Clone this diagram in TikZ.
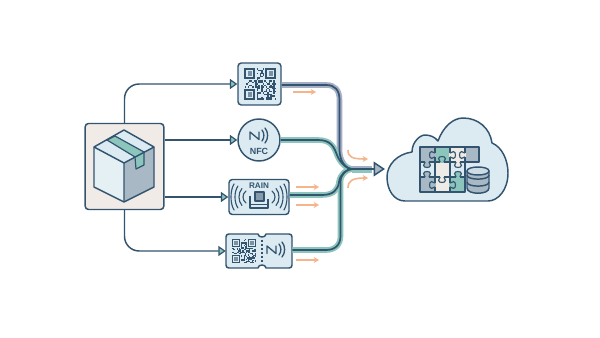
\documentclass[tikz,border=0pt]{standalone}
\usepackage{fontspec}
\setmainfont{Liberation Sans}
\usetikzlibrary{arrows.meta}
\definecolor{ink}{HTML}{33546F}
\definecolor{pale}{HTML}{DCEBF2}
\definecolor{paper}{HTML}{F0EBE6}
\definecolor{sea}{HTML}{8CC5BC}
\definecolor{slate}{HTML}{A9B8C5}
\definecolor{lilac}{HTML}{A4AFC6}
\definecolor{peach}{HTML}{F5B48A}
\definecolor{cream}{HTML}{EEEBE6}
\tikzset{
  x=.75pt, y=-.75pt,
  outline/.style={draw=ink, line width=1.1pt, line join=round},
  tile/.style={outline, fill=pale, rounded corners=2.5pt, inner sep=0pt},
  feed/.style={draw=ink, line width=1.1pt, rounded corners=11pt,
    -{Triangle[length=5.5pt,width=7.5pt,fill=sea,line width=.9pt]}},
  bandpale/.style={line width=4.2pt, line cap=butt},
  banddark/.style={draw=ink, line width=1.3pt},
  flow/.style={draw=peach, line width=1.2pt, -{Stealth[length=4pt,width=4.5pt]}},
  caption/.style={inner sep=0pt, text=ink, font=\fontsize{6.1pt}{7pt}\selectfont\bfseries},
  wave/.style={draw=ink, line width=.85pt, line cap=round},
}
% One QR symbol: x, y of the upper left corner, module size, seed
\newcommand{\qrsymbol}[4]{%
  \begin{scope}[shift={(#1,#2)}, x=#3*.75pt, y=-#3*.75pt]
    \pgfmathsetseed{#4}
    \foreach \r in {0,...,20}{\foreach \c in {0,...,20}{
      \pgfmathrandominteger{\bit}{0}{99}
      \pgfmathtruncatemacro{\infinder}{
        (\r<8 && \c<8) || (\r<8 && \c>12) || (\r>12 && \c<8) ? 1 : 0}
      \ifnum\infinder=0 \ifnum\bit<52
        \fill[ink] (\c,\r) rectangle ++(1,1);
      \fi\fi
    }}
    \foreach \fx/\fy in {0/0,14/0,0/14}{
      \draw[ink, line width=1.05*#3*.75pt] (\fx+.5,\fy+.5) rectangle ++(6,6);
      \fill[slate!60!ink] (\fx+2,\fy+2) rectangle ++(3,3);
    }
  \end{scope}}
% NFC mark: the letter N with two radiating arcs
\newcommand{\nfcmark}[2]{%
  \begin{scope}[shift={(#1,#2)}]
    \draw[wave, line width=1pt, line join=round] (-9,4.5) -- (-9,-3) -- (0,4.5) -- (0,-3);
    \draw[wave, line width=1pt] (3,-5) .. controls (5.5,-2) and (5.5,3) .. (3,6);
    \draw[wave, line width=1pt] (6,-7) .. controls (9.5,-3) and (9.5,4) .. (6,8);
  \end{scope}}
% Puzzle tab: base point, rotation, fill
\newcommand{\puzzletab}[4]{%
  \begin{scope}[shift={(#1,#2)}, rotate=#3]
    \fill[#4] (-1.9,-.1) rectangle (1.9,1);
    \filldraw[draw=ink, line width=.85pt, fill=#4]
      (-1.9,0) .. controls (-1.9,-1.4) and (-3.4,-1.6) .. (-3.4,-3.4)
      .. controls (-3.4,-6.2) and (3.4,-6.2) .. (3.4,-3.4)
      .. controls (3.4,-1.6) and (1.9,-1.4) .. (1.9,0);
  \end{scope}}
% Routes of the four streams into the hub
\newcommand{\qrroute}{([yshift=-.75pt]qrtag.east) -- (326,85)
  .. controls (335,85) and (339.5,90) .. (339.5,100) -- (339.5,150)
  .. controls (339.5,161) and (346,169) .. (hub)}
\newcommand{\nfcroute}{(nfctag.east) -- (318,140)
  .. controls (331,140) and (334,147) .. (337,155)
  .. controls (340,163) and (347,169) .. (hub)}
\newcommand{\rainroute}{([yshift=1.5pt]raintag.east) -- (322,195)
  .. controls (333,195) and (338,190) .. (339,182)
  .. controls (340,174) and (347,169) .. (hub)}
\newcommand{\ticketroute}{([yshift=.75pt]tickettag.east) -- (326,250)
  .. controls (335,250) and (340.5,245) .. (340.5,236) -- (340.5,182)
  .. controls (340.5,174) and (347,169) .. (hub)}
\begin{document}
\begin{tikzpicture}
\useasboundingbox (0,0) rectangle (600,338);
\fill[white] (0,0) rectangle (600,338);

% ---- carton on its panel
\node[tile, fill=paper, minimum width=59pt, minimum height=64.5pt] (panel) at (124.5,166.5) {};
\coordinate (lidtop) at (124,130);
\coordinate (lidleft) at (94,147);
\coordinate (lidright) at (154,147);
\coordinate (corner) at (124,163);
\coordinate (baseleft) at (94,187);
\coordinate (baseright) at (154,187);
\coordinate (basefront) at (124,202);
\fill[pale] (lidtop) -- (lidright) -- (corner) -- (lidleft) -- cycle;
\fill[pale!75!white] (lidleft) -- (corner) -- (basefront) -- (baseleft) -- cycle;
\fill[slate] (lidright) -- (corner) -- (basefront) -- (baseright) -- cycle;
\filldraw[outline, fill=sea, line width=.9pt]
  (107,140) -- (115,136) -- (144,152) -- (144,165) -- (136,169) -- (135,157) -- cycle;
\draw[outline] (lidleft) -- (lidtop) -- (lidright) -- (baseright) -- (basefront) -- (baseleft) -- cycle;
\draw[outline] (lidleft) -- (corner) -- (lidright) (corner) -- (basefront);

% ---- data carriers
\node[tile, minimum width=32.25pt, minimum height=31.5pt] (qrtag) at (259.5,84) {};
\qrsymbol{244.5}{68.5}{1.5}{17}

\node[outline, circle, fill=pale, minimum size=31.5pt, inner sep=0pt] (nfctag) at (259,140) {};
\nfcmark{259}{135}
\node[caption, font=\fontsize{6.7pt}{7pt}\selectfont\bfseries] (nfcname) at (259,151) {NFC};

\node[tile, minimum width=45pt, minimum height=26.25pt] (raintag) at (259,197) {};
\node[caption] (rainname) at (259,186) {RAIN};
\fill[slate!70!ink] (255,192) rectangle (264,201);
\draw[outline, line width=.9pt] (255,192) rectangle (264,201);
\draw[outline, line width=.9pt] (250,196) -- (250,208) -- (268,208) -- (268,199);
\draw[outline, line width=.7pt] (251,204.5) -- (267,204.5);
\foreach \d/\h in {0/6,4/8.5,8/11,12/13}{
  \draw[wave] (246-\d,197-\h) .. controls (242-\d,197-\h/2) and (242-\d,197+\h/2) .. (246-\d,197+\h);
  \draw[wave] (272+\d,197-\h) .. controls (276+\d,197-\h/2) and (276+\d,197+\h/2) .. (272+\d,197+\h);
}

\node[minimum width=49.5pt, minimum height=25.5pt, inner sep=0pt] (tickettag) at (259,251) {};
\filldraw[outline, fill=pale]
  (229,234) -- (258,234) .. controls (258,238) and (266,238) .. (266,234) -- (289,234)
  .. controls (291,234) and (292,235) .. (292,237) -- (292,265)
  .. controls (292,267) and (291,268) .. (289,268) -- (266,268)
  .. controls (266,264) and (258,264) .. (258,268) -- (229,268)
  .. controls (227,268) and (226,267) .. (226,265) -- (226,237)
  .. controls (226,235) and (227,234) .. (229,234) -- cycle;
\draw[ink, line width=.9pt, dash pattern=on 1.5pt off 1.5pt] (262,240) -- (262,263);
\qrsymbol{232}{239}{1.15}{41}
\nfcmark{276}{249}

% ---- links from the carton to each carrier
\draw[feed] (panel.north) |- (qrtag.west);
\draw[feed] (panel.east |- nfctag.west) -- (nfctag.west);
\draw[feed] (panel.east |- raintag.west) -- (raintag.west);
\draw[feed] (panel.south) |- (tickettag.west);

% ---- merging data streams: pale bands below, dark cores above
\coordinate (hub) at (352,169);
\coordinate (cloudgate) at (385,169);
\coordinate (hubupper) at (352,167);
\coordinate (hublower) at (352,171.5);
\coordinate (gateupper) at (372,167);
\coordinate (gatelower) at (372,171.5);
\draw[bandpale, draw=lilac] \qrroute;
\draw[bandpale, draw=sea] \nfcroute;
\draw[bandpale, draw=sea] \rainroute;
\draw[bandpale, draw=sea] \ticketroute;
\draw[draw=lilac, line width=2.2pt] (hubupper) -- (gateupper);
\draw[draw=sea, line width=2.2pt] (hublower) -- (gatelower);
\draw[banddark] \qrroute;
\draw[banddark] \nfcroute;
\draw[banddark] \rainroute;
\draw[banddark] \ticketroute;
\draw[banddark, -{Triangle[length=8.5pt,width=11pt,fill=slate,line width=1.1pt]}] (hub) -- (cloudgate);

% ---- direction cues
\coordinate (cueA) at (293,92);   \coordinate (cueAend) at (316,92);
\coordinate (cueB) at (296,187);  \coordinate (cueBend) at (319,187);
\coordinate (cueC) at (296,205);  \coordinate (cueCend) at (319,205);
\coordinate (cueD) at (296,260);  \coordinate (cueDend) at (319,260);
\draw[flow] (cueA) -- (cueAend);
\draw[flow] (cueB) -- (cueBend);
\draw[flow] (cueC) -- (cueCend);
\draw[flow] (cueD) -- (cueDend);
\coordinate (bendA) at (348,150); \coordinate (bendAend) at (368,159);
\coordinate (bendB) at (348,188); \coordinate (bendBend) at (368,178);
\draw[flow] (bendA) .. controls (348,157) and (352,159) .. (bendAend);
\draw[flow] (bendB) .. controls (348,181) and (352,178) .. (bendBend);

% ---- cloud
\filldraw[outline, fill=pale]
  (405,201) .. controls (394,201) and (387,190) .. (387,177)
  .. controls (387,165) and (397,154) .. (412,152)
  .. controls (412,142) and (420,135) .. (425,135)
  .. controls (430,135) and (435,137) .. (438,141)
  .. controls (443,127) and (453,118) .. (463,118)
  .. controls (478,118) and (490,128) .. (492,143)
  .. controls (502,147) and (508,160) .. (508,173)
  .. controls (508,190) and (498,201) .. (488,201) -- cycle;

% ---- puzzle: cell fills, grid, then the interlocking tabs
\fill[slate] (420,147) rectangle (435,162);
\fill[sea]   (435,147) rectangle (450,162);
\fill[cream] (450,147) rectangle (465,162);
\fill[slate] (465,147) rectangle (479,162);
\fill[pale]  (420,162) rectangle (435,177);
\fill[cream] (435,162) rectangle (450,177);
\fill[pale]  (450,162) rectangle (465,177);
\fill[slate] (420,177) rectangle (435,192);
\fill[cream] (435,177) rectangle (450,192);
\fill[sea]   (450,177) rectangle (465,192);
\draw[outline, line width=.95pt]
  (420,147) -- (479,147) -- (479,162) -- (465,162) -- (465,192) -- (420,192) -- cycle;
\draw[outline, line width=.85pt]
  (420,162) -- (465,162) (420,177) -- (465,177)
  (435,147) -- (435,192) (450,147) -- (450,192) (465,147) -- (465,162);
\puzzletab{435}{155}{90}{slate}
\puzzletab{442}{162}{0}{sea}
\puzzletab{450}{155}{-90}{cream}
\puzzletab{465}{155}{90}{cream}
\puzzletab{427}{162}{180}{slate}
\puzzletab{458}{162}{180}{cream}
\puzzletab{427}{177}{0}{slate}
\puzzletab{442}{177}{180}{cream}
\puzzletab{450}{185}{-90}{sea}
\puzzletab{435}{185}{90}{slate}
\puzzletab{458}{177}{0}{sea}

% ---- database drum
\begin{scope}[shift={(478,0)}]
  \filldraw[outline, fill=slate]
    (-11,171) -- (-11,188) .. controls (-11,195) and (11,195) .. (11,188) -- (11,171) -- cycle;
  \filldraw[outline, fill=pale!70!slate] (-11,171) .. controls (-11,165.7) and (11,165.7) .. (11,171)
    .. controls (11,176.3) and (-11,176.3) .. (-11,171) -- cycle;
  \draw[outline] (-11,175) .. controls (-11,180.5) and (11,180.5) .. (11,175);
  \draw[outline] (-11,182) .. controls (-11,187.5) and (11,187.5) .. (11,182);
\end{scope}
\end{tikzpicture}
\end{document}
